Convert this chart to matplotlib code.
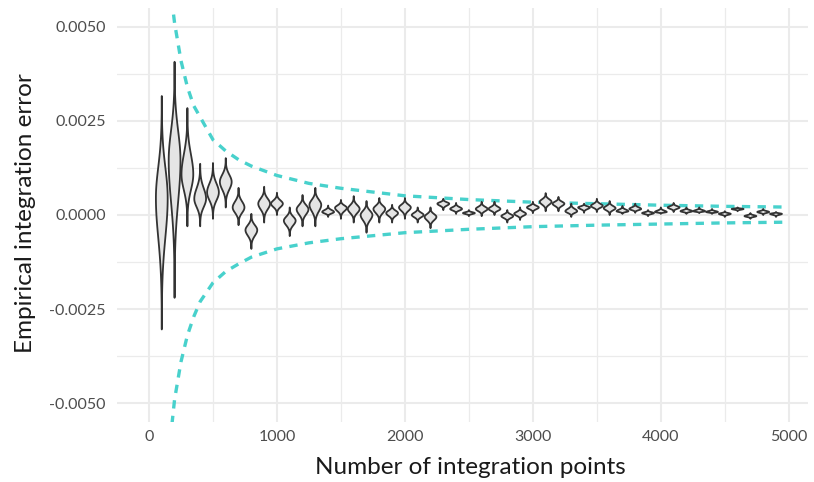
import numpy as np
import matplotlib.pyplot as plt

plt.rcParams['font.family'] = ['Lato', 'DejaVu Sans']

# number of integration points for each batch of runs
n_points = list(range(100, 5000, 100))

# per-batch error: lowest, highest and most frequent value (x 1e-3)
err_hi = [3.16, 4.07, 2.84, 1.36, 1.38, 1.51, 0.72, 0.03, 0.75, 0.59,
          0.20, 0.53, 0.72, 0.25, 0.40, 0.50, 0.37, 0.45, 0.27, 0.45,
          0.20, 0.20, 0.43, 0.32, 0.13, 0.35, 0.35, 0.13, 0.20, 0.35,
          0.58, 0.48, 0.30, 0.30, 0.43, 0.37, 0.24, 0.30, 0.13, 0.20,
          0.32, 0.20, 0.20, 0.16, 0.10, 0.20, 0.05, 0.16, 0.08]
err_lo = [-3.04, -2.20, -0.30, -0.30, -0.10, 0.20, -0.27, -0.90, -0.20, 0.00,
          -0.56, -0.30, -0.30, -0.05, -0.10, -0.20, -0.47, -0.20, -0.20, -0.10,
          -0.20, -0.35, 0.13, 0.03, -0.03, -0.03, 0.00, -0.20, -0.13, 0.05,
          0.10, 0.10, -0.05, 0.06, 0.08, 0.00, 0.03, 0.06, -0.03, 0.03,
          0.08, 0.03, 0.05, 0.03, -0.05, 0.10, -0.10, 0.00, -0.05]
err_mode = [0.45, 1.45, 1.08, 0.43, 0.60, 0.88, 0.20, -0.40, 0.30, 0.30,
            -0.15, 0.15, 0.27, 0.08, 0.19, 0.16, 0.00, 0.16, 0.05, 0.20,
            0.00, -0.05, 0.30, 0.16, 0.05, 0.16, 0.16, -0.03, 0.03, 0.20,
            0.35, 0.30, 0.10, 0.20, 0.24, 0.18, 0.10, 0.16, 0.05, 0.08,
            0.20, 0.10, 0.10, 0.08, 0.03, 0.16, -0.03, 0.08, 0.03]

# theoretical error bound
bound_n = [150, 175, 200, 250, 300, 350, 400, 500, 600, 700, 800, 1000,
           1250, 1500, 2000, 2500, 3000, 3500, 4000, 4500, 5000]
bound_hi = [0.0069, 0.0058, 0.0051, 0.0041, 0.0034, 0.0029, 0.0026, 0.0020,
            0.0017, 0.00147, 0.0013, 0.00105, 0.00084, 0.00071, 0.00051,
            0.00041, 0.00034, 0.00030, 0.00026, 0.00023, 0.00021]
bound_lo = [-0.0068, -0.0057, -0.0049, -0.0039, -0.0032, -0.0027, -0.0023,
            -0.0018, -0.0015, -0.0013, -0.00112, -0.0009, -0.00074, -0.00063,
            -0.00047, -0.00038, -0.00031, -0.00027, -0.00024, -0.00021, -0.00019]

xticks = [0, 1000, 2000, 3000, 4000, 5000]
yticks = [-0.005, -0.0025, 0.0, 0.0025, 0.005]
ytick_labels = ['-0.0050', '-0.0025', '0.0000', '0.0025', '0.0050']

W, H = 814, 482
fig = plt.figure(figsize=(W / 100, H / 100), dpi=100)
left, right, top, bottom = 117, 808, 8, 422
ax = fig.add_axes([left / W, 1 - bottom / H, (right - left) / W, (bottom - top) / H])
ax.set_xlim(-250, 5150)
ax.set_ylim(-0.0055, 0.0055)

# grid (theme_minimal look)
for s in ax.spines.values():
    s.set_visible(False)
ax.set_xticks(xticks)
ax.set_xticks([500, 1500, 2500, 3500, 4500], minor=True)
ax.set_yticks(yticks)
ax.set_yticks([-0.00375, -0.00125, 0.00125, 0.00375], minor=True)
ax.set_xticklabels([str(t) for t in xticks])
ax.set_yticklabels(ytick_labels)
ax.grid(which='major', color='#EBEBEB', lw=1.5)
ax.grid(which='minor', color='#EBEBEB', lw=0.9)
ax.set_axisbelow(True)
ax.tick_params(which='both', length=0, labelsize=11.5, labelcolor='#4D4D4D')
ax.tick_params(axis='x', pad=6)
ax.tick_params(axis='y', pad=8)

ax.plot(bound_n, bound_hi, color='#48D1CC', lw=2.4, dashes=(2.5, 2.2), zorder=2)
ax.plot(bound_n, bound_lo, color='#48D1CC', lw=2.4, dashes=(2.5, 2.2), zorder=2)

# violins: width profile peaks at the mode and thins out towards the extremes
half_w = 46
for xc, lo, hi, md in zip(n_points, err_lo, err_hi, err_mode):
    lo, hi, md = lo * 1e-3, hi * 1e-3, md * 1e-3
    y = np.linspace(lo, hi, 300)
    s = np.where(y > md, 0.3 * (hi - md), 0.3 * (md - lo))
    w = half_w * np.exp(-0.5 * ((y - md) / s) ** 2)
    xs = np.concatenate([xc + w, (xc - w)[::-1]])
    ys = np.concatenate([y, y[::-1]])
    ax.fill(xs, ys, facecolor='#E5E5E5', edgecolor='#333333', lw=1.3,
            joinstyle='round', zorder=3)

fig.text(470 / W, 1 - 467 / H, 'Number of integration points', ha='center',
         va='center', fontsize=17.5, color='#1A1A1A')
fig.text(26 / W, 1 - 213 / H, 'Empirical integration error', ha='center',
         va='center', rotation=90, fontsize=17.5, color='#1A1A1A')

fig.savefig('out.png', dpi=100)
